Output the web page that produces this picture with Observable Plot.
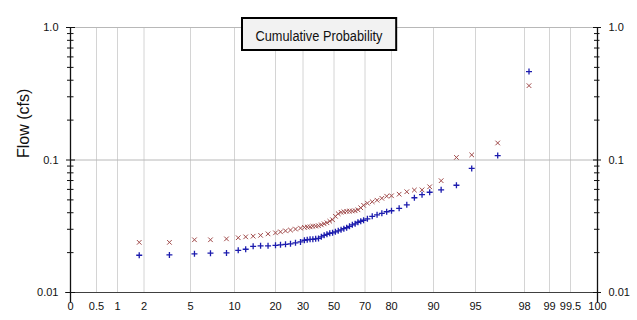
<!DOCTYPE html>
<html><head><meta charset="utf-8">
<script src="https://cdn.jsdelivr.net/npm/d3@7"></script>
<script src="https://cdn.jsdelivr.net/npm/@observablehq/plot@0.6"></script>
<style>
html,body{margin:0;padding:0;background:#fff;}
#chart svg{display:block;}
</style></head><body><div id="chart"></div>
<script>
// ---- data ----
const probTicks = [0,0.5,1,2,5,10,20,30,50,70,80,90,95,98,99,99.5,100];
const probTickLabels = ["0","0.5","1","2","5","10","20","30","50","70","80","90","95","98","99","99.5","100"];
const yMajor = [0.01,0.1,1];
const yMajorLabels = ["0.01","0.1","1.0"];
const yMinor = [0.02,0.03,0.04,0.05,0.06,0.07,0.08,0.09,0.2,0.3,0.4,0.5,0.6,0.7,0.8,0.9];
const probs = [1.82,3.64,5.45,7.27,9.09,10.91,12.73,14.55,16.36,18.18,
  20,21.82,23.64,25.45,27.27,29.09,30.91,32.73,34.55,36.36,
  38.18,40,41.82,43.64,45.45,47.27,49.09,50.91,52.73,54.55,
  56.36,58.18,60,61.82,63.64,65.45,67.27,69.09,70.91,72.73,
  74.55,76.36,78.18,80,81.82,83.64,85.45,87.27,89.09,90.91,
  92.73,94.55,96.36,98.18];
const flowPlus = [0.0191,0.0192,0.0196,0.0198,0.0199,0.0208,0.0212,0.0223,0.0225,0.0225,
  0.0227,0.0229,0.0231,0.0233,0.0237,0.0241,0.0248,0.0250,0.0252,0.0252,
  0.0254,0.0256,0.0263,0.0270,0.0275,0.0280,0.0282,0.0287,0.0292,0.0297,
  0.0303,0.0308,0.0316,0.0324,0.0330,0.0339,0.0345,0.0351,0.0360,0.0376,
  0.0386,0.0396,0.0407,0.0414,0.0432,0.0459,0.0519,0.0547,0.0571,0.0596,
  0.0645,0.0864,0.108,0.465];
const flowTimes = [0.0239,0.0239,0.0250,0.0250,0.0254,0.0259,0.0263,0.0266,0.0270,0.0277,
  0.0282,0.0287,0.0292,0.0296,0.0301,0.0306,0.0310,0.0312,0.0313,0.0316,
  0.0317,0.0319,0.0324,0.0330,0.0336,0.0345,0.0354,0.0376,0.0393,0.0403,
  0.0407,0.0410,0.0411,0.0412,0.0414,0.0421,0.0436,0.0455,0.0472,0.0484,
  0.0497,0.0514,0.0533,0.0537,0.0552,0.0576,0.0593,0.0595,0.0628,0.0698,
  0.1046,0.1093,0.1344,0.364];
const titleText = "Cumulative Probability";
const yTitle = "Flow (cfs)";

// ---- build ----
const dataPlus = probs.map((p, i) => ({p, v: flowPlus[i]}));
const dataTimes = probs.map((p, i) => ({p, v: flowTimes[i]}));
const xLabelMap = new Map(probTicks.map((d, i) => [d, probTickLabels[i]]));
const yLabelMap = new Map(yMajor.map((d, i) => [d, yMajorLabels[i]]));
const gridProbs = probTicks.filter(d => d > 0 && d < 100);

// probability-paper axis: piecewise scale through the tick positions
const xRange = [70,96,117,143.5,190,234,275,302.5,333.5,364.5,391,433,475,524,549,570,597];

const plusSym = {draw(ctx, size) {const r = Math.sqrt(size / Math.PI); ctx.moveTo(-r, 0); ctx.lineTo(r, 0); ctx.moveTo(0, -r); ctx.lineTo(0, r);}};
const timesSym = {draw(ctx, size) {const r = Math.sqrt(size / Math.PI); ctx.moveTo(-r, -r); ctx.lineTo(r, r); ctx.moveTo(-r, r); ctx.lineTo(r, -r);}};

const sans = "'Liberation Sans',Arial,sans-serif";

const chart = Plot.plot({
  width: 637, height: 320,
  marginLeft: 70, marginRight: 40, marginTop: 27, marginBottom: 28,
  style: {fontFamily: sans, fontSize: "11px", color: "#111", background: "#fff"},
  x: {type: "linear", domain: probTicks, range: xRange},
  y: {type: "log", domain: [0.01, 1]},
  marks: [
    Plot.ruleX(gridProbs, {stroke: "#d4d4d4", strokeWidth: 1}),
    Plot.ruleY([0.1, 1], {stroke: "#b8b8b8", strokeWidth: 1}),
    Plot.ruleY([0.01], {stroke: "#404040", strokeWidth: 1.2, insetLeft: -5, insetRight: -4}),
    Plot.ruleX([0, 100], {stroke: "#111", strokeWidth: 1.3, insetBottom: -10}),
    // left axis ticks (crossing the axis line)
    Plot.ruleY(yMajor, {x1: 0, x2: 0, insetLeft: -4, insetRight: -5, stroke: "#111"}),
    Plot.ruleY(yMinor, {x1: 0, x2: 0, insetLeft: -3, insetRight: -3.5, stroke: "#111"}),
    // right axis ticks
    Plot.ruleY(yMajor, {x1: 100, x2: 100, insetLeft: -4, insetRight: -4, stroke: "#111"}),
    Plot.ruleY(yMinor, {x1: 100, x2: 100, insetLeft: -3, insetRight: -2.5, stroke: "#111"}),
    Plot.axisY({anchor: "left", ticks: yMajor, tickSize: 0, tickPadding: 12, tickFormat: d => yLabelMap.get(d), label: null}),
    Plot.axisY({anchor: "right", ticks: yMajor, tickSize: 0, tickPadding: 11, tickFormat: d => yLabelMap.get(d), label: null}),
    Plot.axisX({ticks: probTicks, tickSize: 0, tickPadding: 10, tickFormat: d => xLabelMap.get(d), label: null}),
    Plot.text([yTitle], {frameAnchor: "left", rotate: -90, dx: -47, dy: -2, fontSize: 16, fill: "#111"}),
    Plot.dot(dataTimes, {x: "p", y: "v", symbol: timesSym, r: 2.3, stroke: "#a04a4a", fill: "none", strokeWidth: 1}),
    Plot.dot(dataPlus, {x: "p", y: "v", symbol: plusSym, r: 3, stroke: "#1c1cae", fill: "none", strokeWidth: 1.3})
  ]
});
document.getElementById("chart").appendChild(chart);

// title box annotation
const svg = d3.select(chart);
const g = svg.append("g").attr("class", "title-box");
const rect = g.append("rect");
const t = g.append("text")
  .attr("x", 319).attr("y", 35)
  .attr("text-anchor", "middle").attr("dominant-baseline", "central")
  .attr("textLength", 127).attr("lengthAdjust", "spacingAndGlyphs")
  .style("font-family", sans).style("font-size", "15.5px").style("fill", "#111")
  .text(titleText);
const bb = t.node().getBBox();
rect.attr("x", bb.x - 13.5).attr("y", 18).attr("width", bb.width + 27).attr("height", 32)
  .attr("fill", "#f2f2f2").attr("stroke", "#000").attr("stroke-width", 2);
</script></body></html>
